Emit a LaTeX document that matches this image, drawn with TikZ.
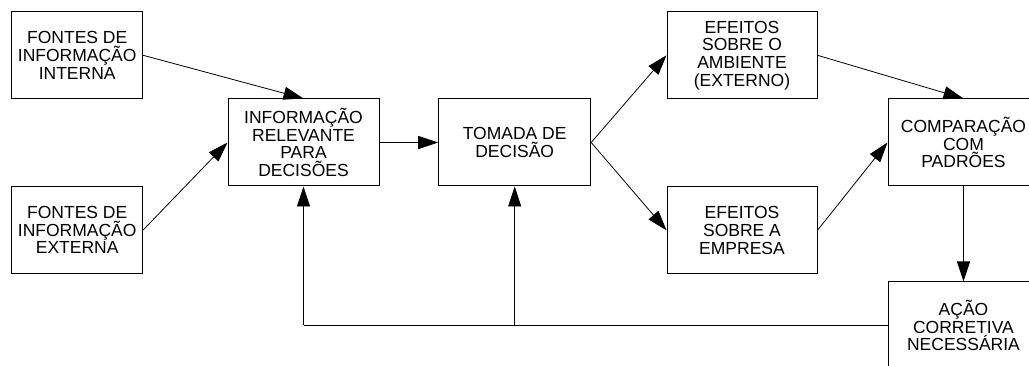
\documentclass[tikz,border=0pt]{standalone}
\usepackage{fontspec}
\setmainfont{Liberation Sans}
\usetikzlibrary{arrows.meta}
\begin{document}
\begin{tikzpicture}[x=1pt,y=-1pt,
  box/.style={draw=black,line width=1pt,rectangle,inner sep=0pt,align=center,
    font=\fontsize{17.5}{17.7}\selectfont,minimum height=87pt},
  sbox/.style={box,minimum width=131pt},
  wbox/.style={box,minimum width=151pt},
  arr/.style={line width=0.8pt,-{Triangle[length=20pt,width=13pt]}},
  ln/.style={line width=0.8pt}]
\useasboundingbox (0,0) rectangle (1029,366);
\clip (0,0) rectangle (1029,366);
\node[sbox] (fi) at (77.2,55.3) {FONTES DE\\INFORMAÇÃO\\INTERNA};
\node[sbox] (fe) at (77.2,230) {FONTES DE\\INFORMAÇÃO\\EXTERNA};
\node[wbox] (ir) at (303.5,142.5) {INFORMAÇÃO\\RELEVANTE\\PARA\\DECISÕES};
\node[wbox,minimum width=152pt] (td) at (514.7,142.5) {TOMADA DE\\DECISÃO};
\node[wbox,minimum width=150pt] (ea) at (742,55.3) {EFEITOS\\SOBRE O\\AMBIENTE\\(EXTERNO)};
\node[wbox,minimum width=150pt] (ee) at (742,230.3) {EFEITOS\\SOBRE A\\EMPRESA};
\node[wbox] (cp) at (963.5,142.5) {COMPARAÇÃO\\COM\\PADRÕES};
\node[wbox] (ac) at (963.5,325.5) {AÇÃO\\CORRETIVA\\NECESSÁRIA};
\draw[arr] (fi.east) -- (ir.north);
\draw[arr] (fe.east) -- (ir.west);
\draw[arr] (ir.east) -- (td.west);
\draw[arr] (td.east) -- (ea.west);
\draw[arr] (td.east) -- (ee.west);
\draw[arr] (ea.east) -- (cp.north);
\draw[arr] (ee.east) -- (cp.west);
\draw[arr] (cp.south) -- (ac.north);
\coordinate (c1) at (ir.south |- ac.west);
\coordinate (c2) at (td.south |- ac.west);
\draw[ln] (ac.west) -- (c1);
\draw[arr] (c1) -- (ir.south);
\draw[arr] (c2) -- (td.south);
\end{tikzpicture}
\end{document}
